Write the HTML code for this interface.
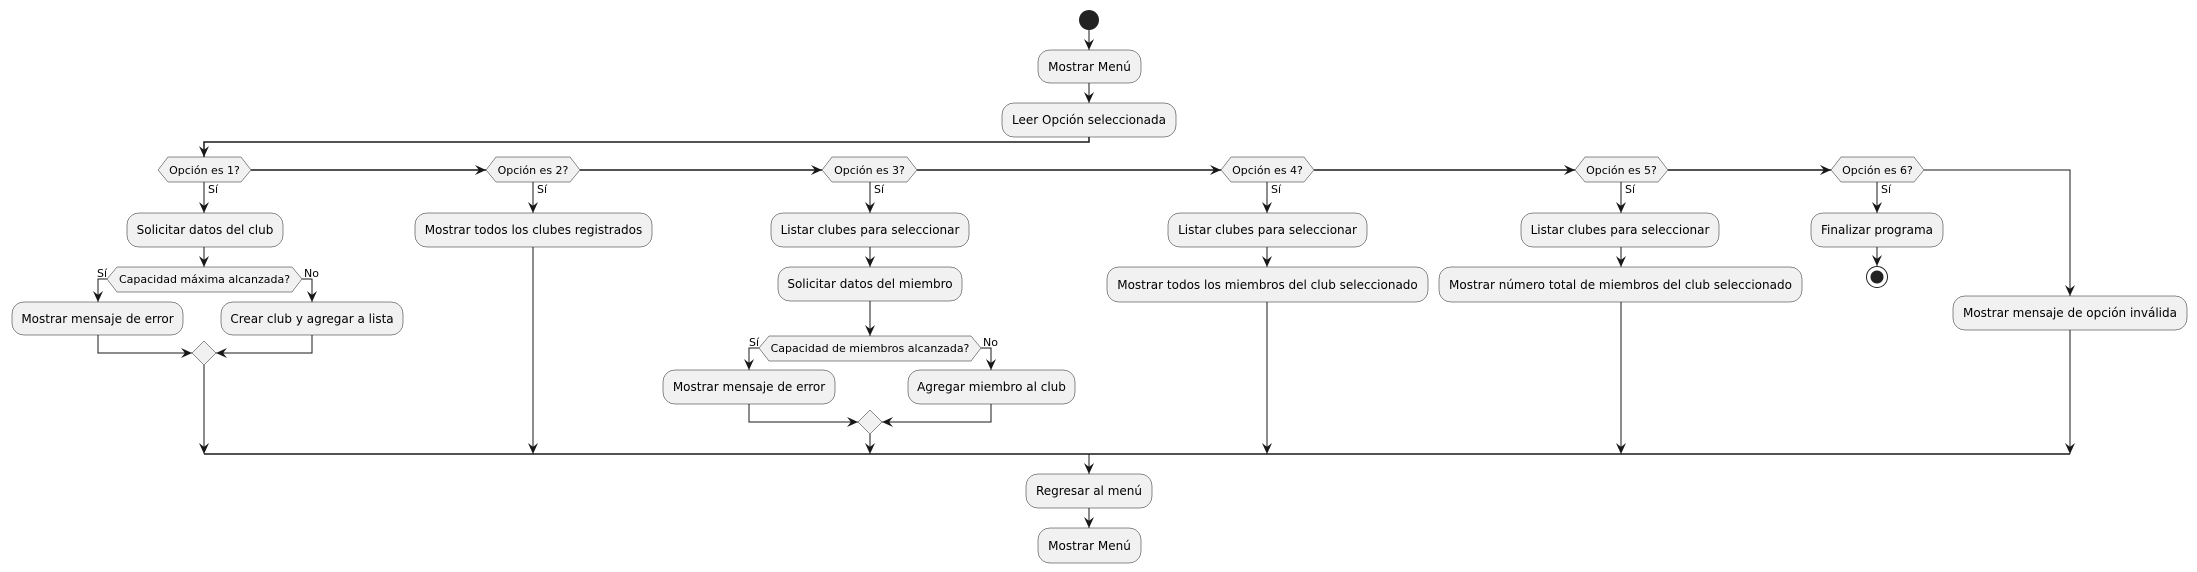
<!DOCTYPE html>
<html><head><meta charset="utf-8"><style>
html,body{margin:0;padding:0;background:#fff}
svg{display:block}
text{font-family:"DejaVu Sans","Liberation Sans",sans-serif;fill:#000}
.b{fill:#F1F1F1;stroke:#181818;stroke-width:0.5}
.l{stroke:#181818;stroke-width:1;fill:none}
.h{stroke:#181818;stroke-width:1.5;fill:none}
</style></head><body>
<svg width="2197" height="572" viewBox="0 0 2197 572" xmlns="http://www.w3.org/2000/svg">
<defs>
<marker id="a" markerWidth="12" markerHeight="12" refX="11" refY="6" orient="auto" markerUnits="userSpaceOnUse">
<path d="M0,1 L11,6 L0,11 L4,6 Z" fill="#181818"/></marker>
</defs>
<circle cx="1089" cy="20" r="10" fill="#222"/>
<path class="l" d="M1089 30 V50" marker-end="url(#a)"/>
<rect class="b" x="1038" y="50" width="103" height="33" rx="12"/>
<text x="1089.5" y="71" font-size="12" text-anchor="middle">Mostrar Menú</text>
<path class="l" d="M1089 83 V103" marker-end="url(#a)"/>
<rect class="b" x="1002" y="103" width="174" height="34" rx="12"/>
<text x="1089" y="124" font-size="12" text-anchor="middle">Leer Opción seleccionada</text>
<path class="h" d="M1089 137 V142 H204 V157" marker-end="url(#a)"/>

<g font-size="11">
<polygon class="b" points="158,170 168,157 241,157 251,170 241,182 168,182"/>
<text x="204.5" y="174" font-size="11" text-anchor="middle">Opción es 1?</text>
<polygon class="b" points="486,170 496,157 570,157 580,170 570,182 496,182"/>
<text x="533" y="174" font-size="11" text-anchor="middle">Opción es 2?</text>
<polygon class="b" points="822,170 832,157 907,157 917,170 907,182 832,182"/>
<text x="869.5" y="174" font-size="11" text-anchor="middle">Opción es 3?</text>
<polygon class="b" points="1221,170 1231,157 1304,157 1314,170 1304,182 1231,182"/>
<text x="1267.5" y="174" font-size="11" text-anchor="middle">Opción es 4?</text>
<polygon class="b" points="1575,170 1585,157 1658,157 1668,170 1658,182 1585,182"/>
<text x="1621.5" y="174" font-size="11" text-anchor="middle">Opción es 5?</text>
<polygon class="b" points="1831,170 1841,157 1914,157 1924,170 1914,182 1841,182"/>
<text x="1877.5" y="174" font-size="11" text-anchor="middle">Opción es 6?</text>
</g>
<path class="h" d="M251 170 H486" marker-end="url(#a)"/>
<path class="h" d="M580 170 H822" marker-end="url(#a)"/>
<path class="h" d="M917 170 H1221" marker-end="url(#a)"/>
<path class="h" d="M1314 170 H1575" marker-end="url(#a)"/>
<path class="h" d="M1668 170 H1831" marker-end="url(#a)"/>
<path class="l" d="M1924 170 H2070 V296" marker-end="url(#a)"/>

<g font-size="11">
<text x="208" y="193">Sí</text>
<text x="537" y="193">Sí</text>
<text x="874" y="193">Sí</text>
<text x="1271" y="193">Sí</text>
<text x="1625" y="193">Sí</text>
<text x="1881" y="193">Sí</text>
</g>

<path class="l" d="M204 182 V213" marker-end="url(#a)"/>
<rect class="b" x="127" y="213" width="156" height="34" rx="12"/>
<text x="205" y="234" font-size="12" text-anchor="middle">Solicitar datos del club</text>
<path class="l" d="M204 247 V267" marker-end="url(#a)"/>
<polygon class="b" points="107,279 117,267 292,267 302,279 292,292 117,292"/>
<text x="204.5" y="283" font-size="11" text-anchor="middle">Capacidad máxima alcanzada?</text>
<text x="97" y="277" font-size="11">Sí</text>
<text x="304" y="277" font-size="11">No</text>
<path class="l" d="M107 279 H98 V302" marker-end="url(#a)"/>
<path class="l" d="M302 279 H312 V302" marker-end="url(#a)"/>
<rect class="b" x="12" y="302" width="171" height="33" rx="12"/>
<text x="97.5" y="323" font-size="12" text-anchor="middle">Mostrar mensaje de error</text>
<rect class="b" x="221" y="302" width="182" height="33" rx="12"/>
<text x="312" y="323" font-size="12" text-anchor="middle">Crear club y agregar a lista</text>
<path class="l" d="M98 335 V353 H192" marker-end="url(#a)"/>
<path class="l" d="M312 335 V353 H216" marker-end="url(#a)"/>
<polygon class="b" points="204,341 216,353 204,365 192,353"/>
<path class="l" d="M204 365 V454" marker-end="url(#a)"/>

<path class="l" d="M533 182 V213" marker-end="url(#a)"/>
<rect class="b" x="415" y="213" width="237" height="34" rx="12"/>
<text x="533.5" y="234" font-size="12" text-anchor="middle">Mostrar todos los clubes registrados</text>
<path class="l" d="M533 247 V454" marker-end="url(#a)"/>

<path class="l" d="M870 182 V213" marker-end="url(#a)"/>
<rect class="b" x="771" y="213" width="198" height="34" rx="12"/>
<text x="870" y="234" font-size="12" text-anchor="middle">Listar clubes para seleccionar</text>
<path class="l" d="M870 247 V267" marker-end="url(#a)"/>
<rect class="b" x="778" y="267" width="184" height="34" rx="12"/>
<text x="870" y="288" font-size="12" text-anchor="middle">Solicitar datos del miembro</text>
<path class="l" d="M870 301 V336" marker-end="url(#a)"/>
<polygon class="b" points="759,348 769,336 971,336 981,348 971,361 769,361"/>
<text x="870" y="352" font-size="11" text-anchor="middle">Capacidad de miembros alcanzada?</text>
<text x="749" y="346" font-size="11">Sí</text>
<text x="983" y="346" font-size="11">No</text>
<path class="l" d="M759 348 H749 V370" marker-end="url(#a)"/>
<path class="l" d="M981 348 H991 V370" marker-end="url(#a)"/>
<rect class="b" x="663" y="370" width="172" height="34" rx="12"/>
<text x="749" y="391" font-size="12" text-anchor="middle">Mostrar mensaje de error</text>
<rect class="b" x="908" y="370" width="167" height="34" rx="12"/>
<text x="991.5" y="391" font-size="12" text-anchor="middle">Agregar miembro al club</text>
<path class="l" d="M749 404 V422 H858" marker-end="url(#a)"/>
<path class="l" d="M991 404 V422 H882" marker-end="url(#a)"/>
<polygon class="b" points="870,410 882,422 870,434 858,422"/>
<path class="l" d="M870 434 V454" marker-end="url(#a)"/>

<path class="l" d="M1267 182 V213" marker-end="url(#a)"/>
<rect class="b" x="1168" y="213" width="199" height="34" rx="12"/>
<text x="1267.5" y="234" font-size="12" text-anchor="middle">Listar clubes para seleccionar</text>
<path class="l" d="M1267 247 V267" marker-end="url(#a)"/>
<rect class="b" x="1107" y="267" width="321" height="35" rx="12"/>
<text x="1267.5" y="289" font-size="12" text-anchor="middle">Mostrar todos los miembros del club seleccionado</text>
<path class="l" d="M1267 302 V454" marker-end="url(#a)"/>

<path class="l" d="M1621 182 V213" marker-end="url(#a)"/>
<rect class="b" x="1521" y="213" width="198" height="34" rx="12"/>
<text x="1620" y="234" font-size="12" text-anchor="middle">Listar clubes para seleccionar</text>
<path class="l" d="M1621 247 V267" marker-end="url(#a)"/>
<rect class="b" x="1439" y="267" width="363" height="35" rx="12"/>
<text x="1620.5" y="289" font-size="12" text-anchor="middle">Mostrar número total de miembros del club seleccionado</text>
<path class="l" d="M1621 302 V454" marker-end="url(#a)"/>

<path class="l" d="M1877 182 V213" marker-end="url(#a)"/>
<rect class="b" x="1811" y="213" width="132" height="34" rx="12"/>
<text x="1877" y="234" font-size="12" text-anchor="middle">Finalizar programa</text>
<path class="l" d="M1877 247 V266" marker-end="url(#a)"/>
<circle cx="1877" cy="277" r="10.5" fill="#fff" stroke="#222" stroke-width="1"/>
<circle cx="1877" cy="277" r="6.5" fill="#222"/>

<rect class="b" x="1953" y="296" width="234" height="34" rx="12"/>
<text x="2070" y="317" font-size="12" text-anchor="middle">Mostrar mensaje de opción inválida</text>
<path class="l" d="M2070 330 V454" marker-end="url(#a)"/>

<path class="h" d="M204 454 H2070"/>
<path class="l" d="M1089 454 V474" marker-end="url(#a)"/>
<rect class="b" x="1026" y="474" width="126" height="34" rx="12"/>
<text x="1089" y="495" font-size="12" text-anchor="middle">Regresar al menú</text>
<path class="l" d="M1089 508 V528" marker-end="url(#a)"/>
<rect class="b" x="1038" y="528" width="103" height="35" rx="12"/>
<text x="1089.5" y="550" font-size="12" text-anchor="middle">Mostrar Menú</text>
</svg>
</body></html>
